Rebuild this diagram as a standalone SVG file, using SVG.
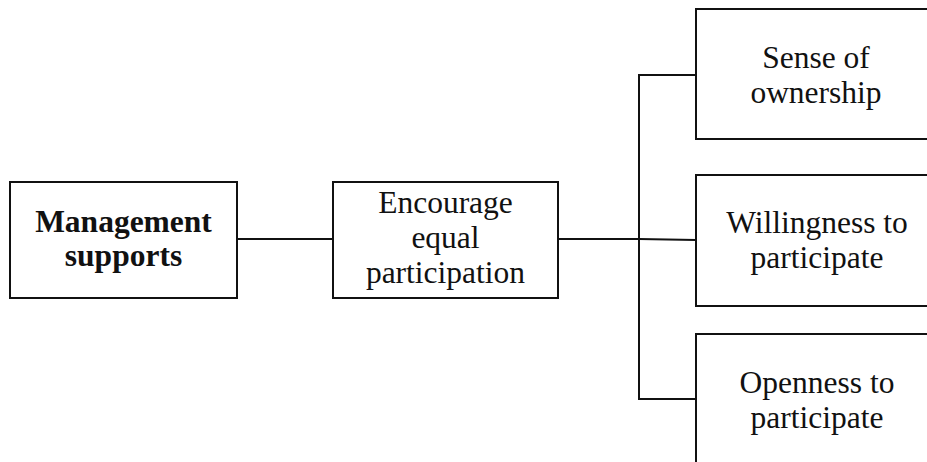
<svg xmlns="http://www.w3.org/2000/svg" width="927" height="462" viewBox="0 0 927 462">
  <style>
    .box { fill: #ffffff; stroke: #111111; stroke-width: 2; }
    .wire { fill: none; stroke: #111111; stroke-width: 2; }
    .label { font-family: "Liberation Serif", "Times New Roman", serif; font-size: 31.5px; fill: #111111; text-anchor: middle; }
    .bold { font-weight: bold; }
  </style>
  <rect width="927" height="462" fill="#ffffff"/>

  <g id="connectors">
    <line class="wire" x1="237" y1="239" x2="333" y2="239"/>
    <line class="wire" x1="558" y1="239" x2="639" y2="239"/>
    <path class="wire" d="M639 239 L696 240"/>
    <path class="wire" d="M696 75 H639 V399 H696"/>
  </g>

  <g id="management-supports">
    <rect class="box" x="10" y="182" width="227" height="116"/>
    <text class="label bold" x="123.5" y="232">Management</text>
    <text class="label bold" x="123.5" y="266">supports</text>
  </g>

  <g id="encourage-participation">
    <rect class="box" x="333" y="182" width="225" height="116"/>
    <text class="label" x="445.5" y="213">Encourage</text>
    <text class="label" x="445.5" y="248">equal</text>
    <text class="label" x="445.5" y="283">participation</text>
  </g>

  <g id="sense-of-ownership">
    <rect class="box" x="696" y="9" width="250" height="130"/>
    <text class="label" x="816" y="68">Sense of</text>
    <text class="label" x="816" y="103">ownership</text>
  </g>

  <g id="willingness-to-participate">
    <rect class="box" x="696" y="175" width="250" height="131"/>
    <text class="label" x="817" y="233">Willingness to</text>
    <text class="label" x="817" y="268">participate</text>
  </g>

  <g id="openness-to-participate">
    <rect class="box" x="696" y="334" width="250" height="150"/>
    <text class="label" x="817" y="393">Openness to</text>
    <text class="label" x="817" y="428">participate</text>
  </g>
</svg>
